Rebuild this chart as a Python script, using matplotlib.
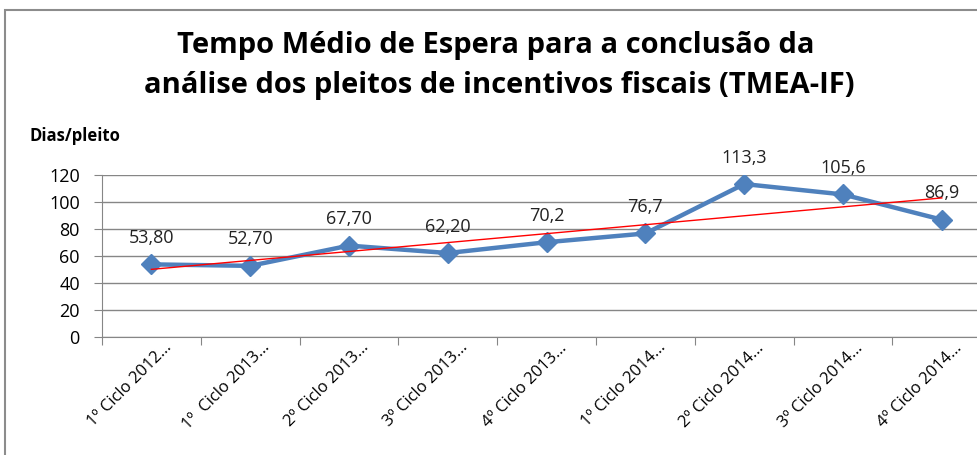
import numpy as np
import matplotlib.pyplot as plt
import matplotlib.transforms as mtransforms
from matplotlib.patches import Rectangle

categories = ["1º Ciclo 2012…", "1º  Ciclo 2013…", "2º Ciclo 2013…", "3º Ciclo 2013…",
              "4º Ciclo 2013…", "1º Ciclo 2014…", "2º Ciclo 2014…", "3º Ciclo 2014…",
              "4º Ciclo 2014…"]
values = [53.8, 52.7, 67.7, 62.2, 70.2, 76.7, 113.3, 105.6, 86.9]
value_labels = ["53,80", "52,70", "67,70", "62,20", "70,2", "76,7", "113,3", "105,6", "86,9"]
y_ticks = [0, 20, 40, 60, 80, 100, 120]

fig = plt.figure(figsize=(9.78, 4.55), dpi=100)

# outer chart frame (cut off at right and bottom like the screenshot)
fig.patches.append(Rectangle((5 / 978, -0.1), 1.2, 1 - 10 / 455 + 0.1,
                             transform=fig.transFigure, fill=False,
                             edgecolor="#8c8c8c", linewidth=1.5))

ax = fig.add_axes([102 / 978, (455 - 337) / 455, 9 * 98.8 / 978, 162 / 455])

x = np.arange(len(values))
ax.plot(x, values, color="#4F81BD", linewidth=3.2, marker="D", markersize=10,
        markerfacecolor="#4F81BD", markeredgecolor="#4F81BD", zorder=3)

# linear trend line
slope, intercept = np.polyfit(x, values, 1)
ax.plot(x, slope * x + intercept, color="red", linewidth=1, zorder=4)

for xi, v, lab in zip(x, values, value_labels):
    ax.annotate(lab, (xi, v), xytext=(0, 19), textcoords="offset points",
                ha="center", va="center", fontsize=13, family="Open Sans",
                color="#222222")

ax.set_xlim(-0.5, len(values) - 0.5)
ax.set_ylim(0, 120)
ax.set_yticks(y_ticks)
ax.set_yticklabels([str(t) for t in y_ticks], fontsize=13, family="Open Sans")
ax.yaxis.grid(True, color="#868686", linewidth=1)
ax.set_axisbelow(True)

ax.set_xticks(np.arange(len(values) + 1) - 0.5)
ax.set_xticklabels([])
ax.set_xticks(x, minor=True)
ax.set_xticklabels(categories, minor=True, rotation=45, ha="right",
                   rotation_mode="anchor", fontsize=12, family="Open Sans")
ax.tick_params(axis="x", which="major", length=6, color="#868686", direction="out")
ax.tick_params(axis="x", which="minor", length=0, pad=2)
ax.tick_params(axis="y", length=6, color="#868686", direction="out", pad=10)
shift = mtransforms.ScaledTranslation(12 / 100, 0, fig.dpi_scale_trans)
for lab in ax.get_xticklabels(minor=True):
    lab.set_transform(lab.get_transform() + shift)

for side in ["top", "right"]:
    ax.spines[side].set_visible(False)
ax.spines["left"].set_color("#868686")
ax.spines["bottom"].set_color("#868686")

fig.text(0.507, 1 - 45 / 455, "Tempo Médio de Espera para a conclusão da",
         ha="center", va="center", fontsize=21, fontweight="bold", family="Open Sans")
fig.text(0.51, 1 - 86 / 455, "análise dos pleitos de incentivos fiscais (TMEA-IF)",
         ha="center", va="center", fontsize=21, fontweight="bold", family="Open Sans")
fig.text(30 / 978, 1 - 136 / 455, "Dias/pleito", ha="left", va="center",
         fontsize=12, fontweight="bold", family="Open Sans")

fig.savefig("out.png", dpi=100)
